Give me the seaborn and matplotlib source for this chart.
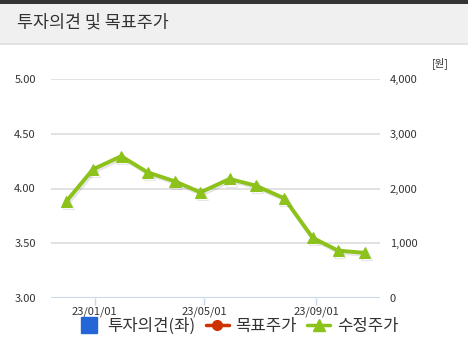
import matplotlib
matplotlib.use("Agg")
import matplotlib.pyplot as plt
import matplotlib.patheffects as pe
from matplotlib.lines import Line2D
from matplotlib.patches import Rectangle
import seaborn as sns
import pandas as pd

dates = ["2022-12-01", "2022-12-30", "2023-01-30", "2023-02-28", "2023-03-30",
         "2023-04-27", "2023-05-29", "2023-06-27", "2023-07-28", "2023-08-28",
         "2023-09-25", "2023-10-24"]
adj_price = [1770, 2350, 2590, 2295, 2130, 1930, 2175, 2050, 1820, 1100, 865, 825]
left_ticks = [3.00, 3.50, 4.00, 4.50, 5.00]
right_ticks = [0, 1000, 2000, 3000, 4000]
xtick_dates = ["2023-01-01", "2023-05-01", "2023-09-01"]
xtick_labels = ["23/01/01", "23/05/01", "23/09/01"]

df = pd.DataFrame({"date": pd.to_datetime(dates), "price": adj_price})

sns.set_theme(style="white")
plt.rcParams['font.family'] = ['Noto Sans CJK KR', 'DejaVu Sans']

W, H = 468, 354
fig = plt.figure(figsize=(W / 100, H / 100), dpi=100)
fig.patch.set_facecolor("white")

# header bar
fig.patches.append(Rectangle((0, 1 - 43 / H), 1, 43 / H, transform=fig.transFigure,
                             facecolor="#f0f0f0", edgecolor="none", zorder=0))
fig.patches.append(Rectangle((0, 1 - 4 / H), 1, 4 / H, transform=fig.transFigure,
                             facecolor="#333333", edgecolor="none", zorder=1))
fig.add_artist(Line2D([0, 1], [1 - 44 / H, 1 - 44 / H], transform=fig.transFigure,
                      color="#dddddd", lw=1.2))
fig.text(17 / W, 1 - 23 / H, "투자의견 및 목표주가", fontsize=12.5, color="#333333",
         va="center", ha="left")

l, r, b, t = 51, 380, 298, 79
ax = fig.add_axes([l / W, 1 - b / H, (r - l) / W, (b - t) / H])
ax2 = ax.twinx()

xmin, xmax = pd.Timestamp("2022-11-14"), pd.Timestamp("2023-11-10")
ax.set_xlim(xmin, xmax)
ax.set_ylim(3, 5)
ax2.set_ylim(0, 4000)

ax.set_yticks(left_ticks)
ax.set_yticklabels([f"{v:.2f}" for v in left_ticks])
ax2.set_yticks(right_ticks)
ax2.set_yticklabels([f"{v:,}" for v in right_ticks])

for v in left_ticks[1:]:
    ax.axhline(v, color="#dddddd", lw=1.2, zorder=0)
ax.axhline(3, color="#ccd6eb", lw=1.5, zorder=1)

for a in (ax, ax2):
    for s in a.spines.values():
        s.set_visible(False)
    a.set_facecolor("none")
    a.grid(False)

ax.tick_params(axis="y", length=0, pad=11, labelsize=8, labelcolor="#333333")
ax2.tick_params(axis="y", length=0, pad=7, labelsize=8, labelcolor="#333333")

ax.set_xticks(pd.to_datetime(xtick_dates))
ax.set_xticklabels(xtick_labels)
ax.tick_params(axis="x", length=5, width=1, color="#ccd6eb", pad=1,
               labelsize=8, labelcolor="#333333", bottom=True)

green = "#8cc21a"
sns.lineplot(data=df, x="date", y="price", ax=ax2, color=green, lw=2.8,
             marker="^", markersize=8, markeredgecolor=green,
             path_effects=[pe.SimpleLineShadow(offset=(1.2, -1.5), alpha=0.12, shadow_color="#333333"), pe.Normal()],
             zorder=5)
ax2.set_xlabel("")
ax2.set_ylabel("")
ax.set_xlabel("")
ax.set_ylabel("")
ax2.set_xlim(xmin, xmax)

fig.text(440 / W, 1 - 63 / H, "[원]", fontsize=7.5, color="#333333", ha="center", va="center")

# legend
handles = [
    Line2D([], [], marker="s", color="#2466d8", lw=0, markersize=11),
    Line2D([], [], marker="o", color="#cc3300", lw=2.5, markersize=7),
    Line2D([], [], marker="^", color=green, lw=2.5, markersize=8),
]
labels = ["투자의견(좌)", "목표주가", "수정주가"]
fig.legend(handles, labels, loc="center", bbox_to_anchor=(238 / W, 1 - 326 / H),
           ncol=3, frameon=False, fontsize=12, handlelength=1.4,
           columnspacing=0.6, handletextpad=0.4, labelcolor="#333333")

fig.savefig("out.png", dpi=100)
